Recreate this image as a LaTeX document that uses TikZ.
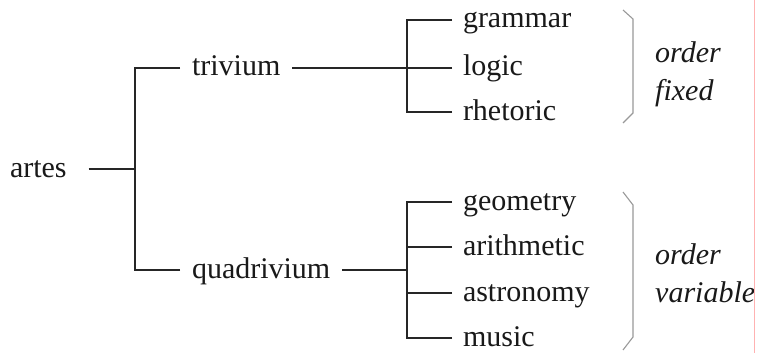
\documentclass[tikz,border=0pt]{standalone}
\usepackage{fontspec}
\setmainfont{Liberation Serif}
\begin{document}
\begin{tikzpicture}[x=1pt,y=-1pt,
  lbl/.style={font=\fontsize{30}{36}\selectfont, text=black!90, inner sep=0pt, outer ysep=0pt, outer xsep=12pt, text height=21pt, text depth=5pt, anchor=west},
  leaf/.style={lbl, outer xsep=11pt},
  note/.style={font=\fontsize{30}{38}\selectfont\itshape, text=black!90, inner sep=0pt, align=left, anchor=north west},
  conn/.style={line width=1.6pt, draw=black!85},
  bracket/.style={line width=1.1pt, draw=black!40}]
\useasboundingbox (0,0) rectangle (758,353);
\fill[white] (0,0) rectangle (758,353);
% root
\node[lbl, outer xsep=22pt] (artes) at (-12,169) {artes};
\coordinate (j0) at (135,169);
\node[lbl] (trivium) at (180,68) {trivium};
\node[lbl] (quadrivium) at (180,270) {quadrivium};
\coordinate (j1) at (407,68);
\coordinate (j2) at (407,270);
% leaves
\node[leaf] (grammar) at (452,20) {grammar};
\node[leaf] (logic) at (452,68) {logic};
\node[leaf] (rhetoric) at (452,112) {rhetoric};
\node[leaf] (geometry) at (452,202) {geometry};
\node[leaf] (arithmetic) at (452,247) {arithmetic};
\node[leaf] (astronomy) at (452,293) {astronomy};
\node[leaf] (music) at (452,338) {music};
% connectors
\draw[conn] (artes.east) -- (j0);
\draw[conn] (trivium.west) -| (j0);
\draw[conn] (quadrivium.west) -| (j0);
\draw[conn] (trivium.east) -- (j1);
\draw[conn] (grammar.west) -| (j1);
\draw[conn] (logic.west) -- (j1);
\draw[conn] (rhetoric.west) -| (j1);
\draw[conn] (quadrivium.east) -- (j2);
\draw[conn] (geometry.west) -| (j2);
\draw[conn] (arithmetic.west) -| (j2);
\draw[conn] (astronomy.west) -| (j2);
\draw[conn] (music.west) -| (j2);
% brackets
\draw[bracket] (623,10) -- (633,19) -- (633,113) -- (623,123);
\draw[bracket] (623,192) -- (633,205) -- (633,337) -- (623,350);
% notes
\node[note] (fixednote) at (655,41) {order\\fixed};
\node[note] (varnote) at (655,243) {order\\variable};
% right margin line
\draw[line width=0.8pt, draw=red!30] (754,0) -- (754,353);
\end{tikzpicture}
\end{document}
